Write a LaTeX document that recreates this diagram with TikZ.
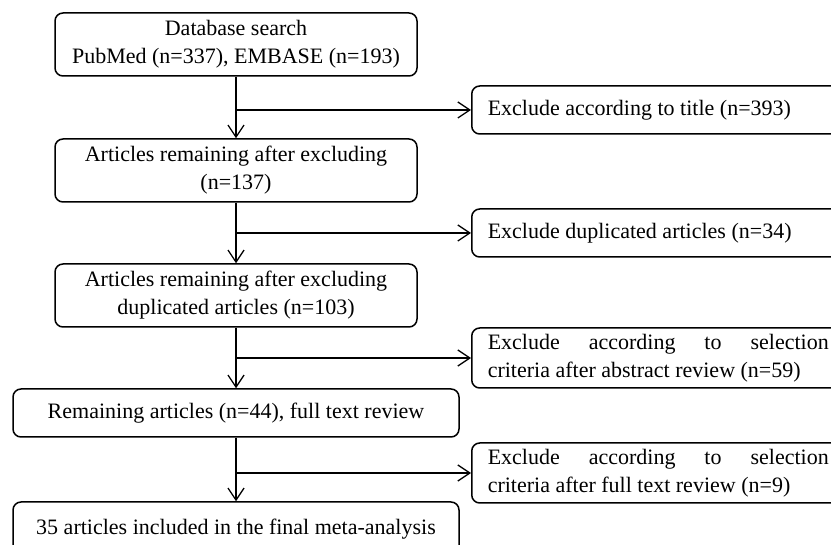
\documentclass[tikz,border=0pt]{standalone}
\usepackage{fontspec}
\setmainfont{Liberation Serif}
\usetikzlibrary{arrows.meta}
\newcommand\mainwidth{362pt}
\newcommand\widewidth{446pt}
\newcommand\sidetext{341pt}
\tikzstyle{process} = [rectangle, rounded corners=8pt, draw=black, line width=1.5pt, inner sep=0pt, align=center, font=\fontsize{22}{28}\selectfont]
\tikzstyle{exclude} = [process, anchor=west, align=justify, text width=\sidetext, inner xsep=16pt]
\tikzstyle{arrow} = [line width=1.3pt, -{Straight Barb[length=12pt, width=16pt]}]

\begin{document}
\begin{tikzpicture}[x=1pt, y=-1pt]
	    \clip (0,0) rectangle (831,545);

	    \node[process, minimum width=\mainwidth, minimum height=63pt] (db) at (236,44.5) {Database search\\PubMed (n=337), EMBASE (n=193)};
	    \node[process, minimum width=\mainwidth, minimum height=63pt] (rem1) at (236,170.5) {Articles remaining after excluding\\(n=137)};
	    \node[process, minimum width=\mainwidth, minimum height=63pt] (rem2) at (236,295.5) {Articles remaining after excluding\\duplicated articles (n=103)};
	    \node[process, minimum width=\widewidth, minimum height=48pt] (rem3) at (236,413) {Remaining articles (n=44), full text review};
	    \node[process, minimum width=\widewidth, minimum height=54pt] (final) at (236,529) {35 articles included in the final meta-analysis};

	    \node[exclude, minimum height=48pt] (ex1) at (471,110) {Exclude according to title (n=393)};
	    \node[exclude, minimum height=48pt] (ex2) at (471,233) {Exclude duplicated articles (n=34)};
	    \node[exclude, minimum height=60pt] (ex3) at (471,358) {Exclude according to selection\linebreak criteria after abstract review (n=59)};
	    \node[exclude, minimum height=60pt] (ex4) at (471,473) {Exclude according to selection\linebreak criteria after full text review (n=9)};

	    \draw[arrow] (db.south) -- (rem1.north);
	    \draw[arrow] (rem1.south) -- (rem2.north);
	    \draw[arrow] (rem2.south) -- (rem3.north);
	    \draw[arrow] (rem3.south) -- (final.north);

	    \draw[arrow] (db.south |- ex1.west) -- (ex1.west);
	    \draw[arrow] (rem1.south |- ex2.west) -- (ex2.west);
	    \draw[arrow] (rem2.south |- ex3.west) -- (ex3.west);
	    \draw[arrow] (rem3.south |- ex4.west) -- (ex4.west);
	\end{tikzpicture}
\end{document}
